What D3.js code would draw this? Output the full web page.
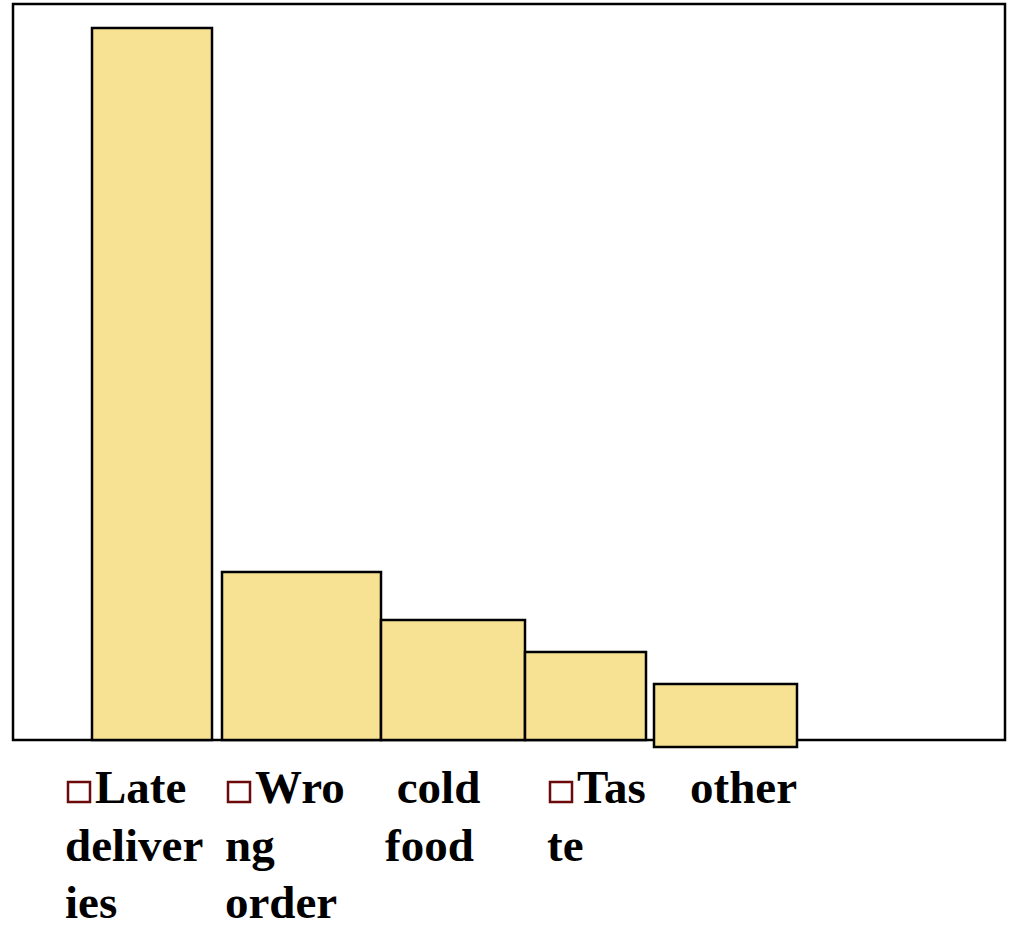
<!DOCTYPE html>
<html>
<head>
<meta charset="utf-8">
<script src="https://cdn.jsdelivr.net/npm/d3@7"></script>
<style>
  html, body { margin: 0; padding: 0; background: #fff; }
  svg { display: block; }
  .lbl { font-family: "Liberation Serif", "Times New Roman", serif; font-weight: bold; font-size: 47px; fill: #000; }
</style>
</head>
<body>
<svg id="chart" width="1010" height="929"></svg>
<script>
// Complaint categories and counts
const categories = ["Late deliveries", "Wrong order", "cold food", "Taste", "other"];
const counts = [178, 42, 30, 22, 15.75];
// "other" sits slightly below the baseline
const sink = [0, 0, 0, 0, 1.75];
// Wrapped label text for each category
const labelLines = [["Late", "deliver", "ies"], ["Wro", "ng", "order"], [" cold", "food"], ["Tas", "te"], ["other"]];
const bulleted = [true, true, false, true, false];

// Layout: horizontal span of each column (layout units), label column starts
const spans = [[79, 199], [209, 368], [368, 512], [512, 633], [641, 784]];
const labelLeft = [65, 225, 385, 547, 690];

const W = 1010, H = 929;
const frame = { left: 13, top: 4, right: 1005, bottom: 740 };

const svg = d3.select("#chart");

const x = d3.scaleLinear().domain([0, 992]).range([frame.left, frame.right]);
const y = d3.scaleLinear().domain([0, 184]).range([frame.bottom, frame.top]);

// Plot frame
svg.append("rect")
  .attr("x", frame.left).attr("y", frame.top)
  .attr("width", frame.right - frame.left).attr("height", frame.bottom - frame.top)
  .attr("fill", "none").attr("stroke", "#000").attr("stroke-width", 2.5);

// Bars
svg.append("g").selectAll("rect")
  .data(categories)
  .join("rect")
  .attr("x", (d, i) => x(spans[i][0]))
  .attr("width", (d, i) => x(spans[i][1]) - x(spans[i][0]))
  .attr("y", (d, i) => y(counts[i] - sink[i]))
  .attr("height", (d, i) => y(-sink[i]) - y(counts[i] - sink[i]))
  .attr("fill", "#f7e293")
  .attr("stroke", "#000")
  .attr("stroke-width", 2.5);

// Category labels
const lineGap = 57.5;
const firstBase = 803;
const lab = svg.append("g");
categories.forEach((c, i) => {
  const x0 = labelLeft[i];
  if (bulleted[i]) {
    lab.append("rect")
      .attr("x", x0 + 3).attr("y", 782)
      .attr("width", 22).attr("height", 20)
      .attr("fill", "none").attr("stroke", "#6b0a0a").attr("stroke-width", 2.5);
  }
  labelLines[i].forEach((line, j) => {
    const dx = (j === 0 && bulleted[i]) ? 30 : 0;
    lab.append("text")
      .attr("class", "lbl")
      .attr("x", x0 + dx)
      .attr("y", firstBase + j * lineGap)
      .attr("xml:space", "preserve")
      .style("white-space", "pre")
      .text(line);
  });
});
</script>
</body>
</html>
